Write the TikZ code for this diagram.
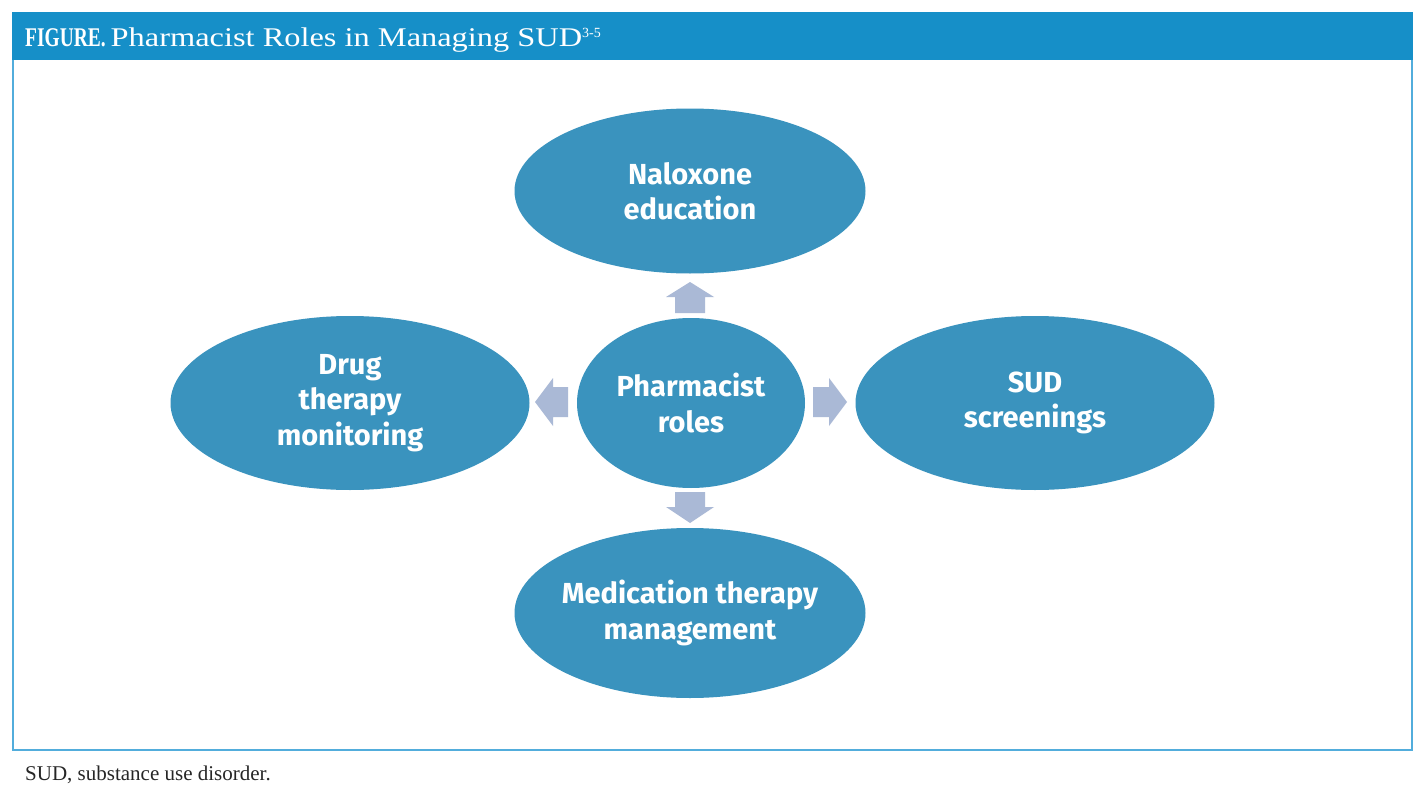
\documentclass[tikz,border=0pt]{standalone}
\usepackage{fontspec}
\setmainfont{Liberation Serif}
\newfontfamily\ellfont{Fira Sans}
\usetikzlibrary{shapes.geometric,shapes.arrows}
\definecolor{hdr}{HTML}{168FC8}
\definecolor{frm}{HTML}{52ADDC}
\definecolor{ell}{HTML}{3A93BE}
\definecolor{arr}{HTML}{AAB9D6}
\tikzset{
  bub/.style={ellipse, fill=ell, draw=none, text=white, align=center,
    font=\ellfont\bfseries\fontsize{29}{35.5}\selectfont, inner xsep=-30pt, inner ysep=0pt},
  blk/.style={fill=arr, draw=none}
}
\begin{document}
\begin{tikzpicture}[x=1pt,y=-1pt]
\useasboundingbox (0,0) rectangle (1428,792);
\fill[white] (0,0) rectangle (1428,792);
% frame
\draw[frm, line width=2pt] (13,13) rectangle (1412,750);
\fill[hdr] (12,12) rectangle (1413,60);
\node[anchor=base west, text=white, inner sep=0pt, font=\fontsize{27}{30}\selectfont] (title) at (25,47)
  {\scalebox{0.72}[1]{\textbf{FIGURE.}}\hspace{5pt}\scalebox{1.2}[1]{Pharmacist Roles in Managing SUD}\textsuperscript{\fontsize{14}{14}\selectfont 3-5}};
% ellipses
\node[bub, minimum width=351pt, minimum height=165pt] (top) at (690,191) {Naloxone\\education};
\node[bub, minimum width=228pt, minimum height=170pt] (ctr) at (691,403) {Pharmacist\\roles};
\node[bub, minimum width=359pt, minimum height=174pt] (lft) at (350,403) {Drug\\therapy\\monitoring};
\node[bub, minimum width=359pt, minimum height=174pt] (rgt) at (1035,403) {SUD\\screenings};
\node[bub, minimum width=351pt, minimum height=170pt] (bot) at (690,613) {Medication therapy\\management};
% block arrows
\fill[blk] (675,313) -- (675,297) -- (666,297) -- (690,282) -- (714,297) -- (705,297) -- (705,313) -- cycle;
\fill[blk] (675,492) -- (675,507) -- (666,507) -- (690,523) -- (714,507) -- (705,507) -- (705,492) -- cycle;
\fill[blk] (568,387) -- (553,387) -- (553,378) -- (535,402) -- (553,426) -- (553,417) -- (568,417) -- cycle;
\fill[blk] (813,387) -- (829,387) -- (829,378) -- (847,402) -- (829,426) -- (829,417) -- (813,417) -- cycle;
% footnote
\node[anchor=base west, inner sep=0pt, text=black!85, font=\fontsize{21}{24}\selectfont] (foot) at (25,780) {SUD, substance use disorder.};
\end{tikzpicture}
\end{document}
